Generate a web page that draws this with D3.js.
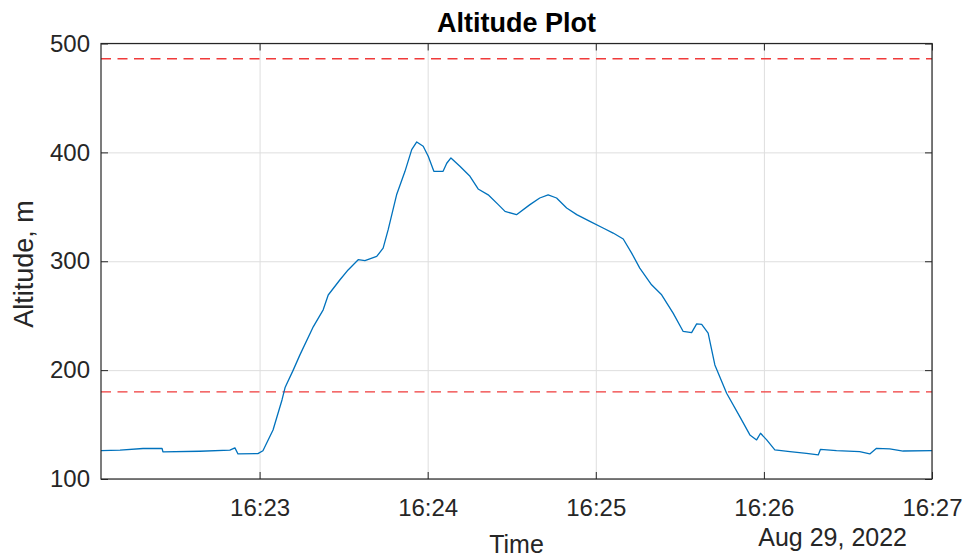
<!DOCTYPE html>
<html>
<head>
<meta charset="utf-8">
<script src="https://cdn.jsdelivr.net/npm/d3@7"></script>
<style>
  body { margin: 0; background: #fff; }
  text { font-family: "Liberation Sans", Arial, Helvetica, sans-serif; }
</style>
</head>
<body>
<div id="chart"></div>
<script>
// seconds after 16:22:00 on Aug 29, 2022
var secs = [3.4, 10.2, 18.4, 25.2, 25.5, 38.7, 49.4, 51.2, 52.3, 59.4, 61.2, 64.8, 68.0, 69.1,
  72.0, 74.4, 79.2, 82.7, 84.5, 88.7, 91.6, 95.2, 97.6, 101.8, 104.1, 105.9, 108.9, 111.9,
  114.3, 116.1, 118.4, 120.2, 122.2, 125.5, 126.8, 128.3, 131.5, 135.1, 138.0, 141.6, 145.2,
  147.6, 151.7, 156.5, 160.0, 163.0, 166.0, 169.6, 173.2, 177.9, 182.6, 186.2, 189.8, 192.8,
  195.7, 199.9, 203.5, 207.6, 211.2, 214.2, 216.0, 217.8, 220.1, 222.5, 226.7, 231.4, 235.0,
  237.4, 238.8, 241.0, 243.9, 249.3, 255.2, 259.4, 260.2, 265.9, 274.2, 277.8, 280.2, 284.9,
  289.7, 300.0]
var altitude = [126, 126.5, 128, 128, 125, 125.5, 126.5, 128.6, 123, 123.3, 126, 145, 172.6, 184,
  200, 214, 240, 255.4, 269, 283, 292, 301.4, 300.5, 304.4, 312, 329, 361, 382.6,
  402.5, 409.6, 405.6, 396.4, 382.6, 382.6, 390, 394.9, 387.2, 378, 366.4, 361, 352,
  345.8, 342.8, 352, 358.1, 361, 358.1, 348.9, 342.8, 336.6, 330.5, 325.9, 320.4, 307.5,
  293.7, 278.4, 269.2, 252.4, 235.5, 234.5, 242.5, 242, 234, 204.8, 178.8, 157.3, 140.5,
  135.9, 142, 135.9, 126.7, 125.1, 123.6, 122.1, 127.3, 126, 125.1, 123, 128.2, 127.6,
  125.7, 126]
var limits = [486, 180]
var yTicks = [100, 200, 300, 400, 500]

var t0 = new Date(2022, 7, 29, 16, 22, 0)
var data = secs.map(function(s, i) {
  return { t: new Date(t0.getTime() + s * 1000), alt: altitude[i] }
})

var W = 963, H = 557
var margin = { top: 43.5, right: 31, bottom: 78, left: 101 }
var w = W - margin.left - margin.right
var h = H - margin.top - margin.bottom

var x = d3.scaleTime()
  .domain([new Date(t0.getTime() + 3400), new Date(2022, 7, 29, 16, 27, 0)])
  .range([0, w])
var y = d3.scaleLinear().domain([100, 500]).range([h, 0])
var xTicks = d3.timeMinute.range(new Date(2022, 7, 29, 16, 23), new Date(2022, 7, 29, 16, 27, 1))

var svg = d3.select("#chart").append("svg")
  .attr("width", W)
  .attr("height", H)
var g = svg.append("g")
  .attr("transform", "translate(" + margin.left + "," + margin.top + ")")

// grid
g.append("g")
  .attr("transform", "translate(0," + h + ")")
  .call(d3.axisBottom(x).tickValues(xTicks).tickSize(-h).tickFormat(""))
  .call(function(a) { a.select(".domain").remove() })
  .selectAll("line").attr("stroke", "#dedede")
g.append("g")
  .call(d3.axisLeft(y).tickValues(yTicks).tickSize(-w).tickFormat(""))
  .call(function(a) { a.select(".domain").remove() })
  .selectAll("line").attr("stroke", "#dedede")

// limit lines
g.selectAll(".limit")
  .data(limits)
  .enter().append("line")
  .attr("class", "limit")
  .attr("x1", 0).attr("x2", w)
  .attr("y1", function(d) { return y(d) })
  .attr("y2", function(d) { return y(d) })
  .attr("stroke", "#f03a3a")
  .attr("stroke-width", 1.3)
  .attr("stroke-dasharray", "10,6.5")

// altitude trace
var line = d3.line()
  .x(function(d) { return x(d.t) })
  .y(function(d) { return y(d.alt) })
g.append("path")
  .datum(data)
  .attr("fill", "none")
  .attr("stroke", "#0072BD")
  .attr("stroke-width", 1.3)
  .attr("stroke-linejoin", "round")
  .attr("d", line)

// axes with inward ticks
var axisColor = "#262626"
function styleAxis(a) {
  a.select(".domain").remove()
  a.selectAll("line").attr("stroke", axisColor)
  a.selectAll("text").attr("fill", axisColor).style("font-size", "24px")
}
g.append("g")
  .attr("transform", "translate(0," + h + ")")
  .call(d3.axisBottom(x).tickValues(xTicks).tickSize(-7).tickSizeOuter(0)
    .tickPadding(20).tickFormat(d3.timeFormat("%H:%M")))
  .call(styleAxis)
g.append("g")
  .call(d3.axisTop(x).tickValues(xTicks).tickSize(-7).tickSizeOuter(0).tickFormat(""))
  .call(styleAxis)
g.append("g")
  .call(d3.axisLeft(y).tickValues(yTicks).tickSize(-7).tickSizeOuter(0).tickPadding(11))
  .call(styleAxis)
g.append("g")
  .attr("transform", "translate(" + w + ",0)")
  .call(d3.axisRight(y).tickValues(yTicks).tickSize(-7).tickSizeOuter(0).tickFormat(""))
  .call(styleAxis)

g.append("rect")
  .attr("width", w).attr("height", h)
  .attr("fill", "none")
  .attr("stroke", axisColor)
  .attr("stroke-width", 1.2)

// labels
svg.append("text")
  .attr("x", margin.left + w / 2).attr("y", 32)
  .attr("text-anchor", "middle")
  .style("font-size", "27px").style("font-weight", "bold")
  .attr("fill", "#000")
  .text("Altitude Plot")
svg.append("text")
  .attr("x", margin.left + w / 2).attr("y", 553)
  .attr("text-anchor", "middle")
  .style("font-size", "25px")
  .attr("fill", axisColor)
  .text("Time")
svg.append("text")
  .attr("x", 907).attr("y", 546)
  .attr("text-anchor", "end")
  .style("font-size", "25px")
  .attr("fill", axisColor)
  .text("Aug 29, 2022")
svg.append("text")
  .attr("transform", "translate(33," + 264 + ") rotate(-90)")
  .attr("text-anchor", "middle")
  .style("font-size", "27px")
  .attr("fill", axisColor)
  .text("Altitude, m")
</script>
</body>
</html>
